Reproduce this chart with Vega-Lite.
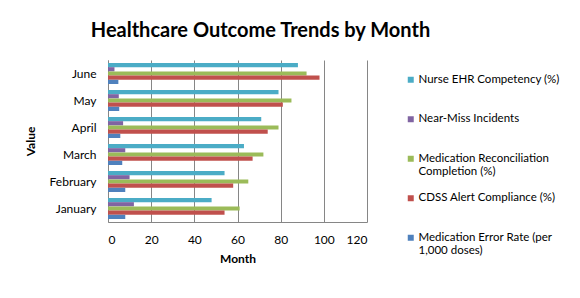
{
  "$schema": "https://vega.github.io/schema/vega-lite/v6.json",
  "width": 259,
  "height": 162,
  "autosize": {"type": "none"},
  "padding": {"left": 108, "top": 60, "right": 213, "bottom": 76},
  "background": "white",
  "title": {
    "text": "Healthcare Outcome Trends by Month",
    "font": "Lato",
    "fontSize": 20,
    "fontWeight": "bold",
    "color": "#000000",
    "anchor": "middle",
    "frame": "group",
    "dx": 23,
    "dy": 23,
    "baseline": "bottom",
    "offset": 22
  },
  "data": {
    "values": [
      {"month": "January", "series": "Nurse EHR Competency (%)", "value": 48},
      {"month": "January", "series": "Near-Miss Incidents", "value": 12},
      {"month": "January", "series": "Medication Reconciliation Completion (%)", "value": 61},
      {"month": "January", "series": "CDSS Alert Compliance (%)", "value": 54},
      {"month": "January", "series": "Medication Error Rate (per 1,000 doses)", "value": 8},
      {"month": "February", "series": "Nurse EHR Competency (%)", "value": 54},
      {"month": "February", "series": "Near-Miss Incidents", "value": 10},
      {"month": "February", "series": "Medication Reconciliation Completion (%)", "value": 65},
      {"month": "February", "series": "CDSS Alert Compliance (%)", "value": 58},
      {"month": "February", "series": "Medication Error Rate (per 1,000 doses)", "value": 8},
      {"month": "March", "series": "Nurse EHR Competency (%)", "value": 63},
      {"month": "March", "series": "Near-Miss Incidents", "value": 8},
      {"month": "March", "series": "Medication Reconciliation Completion (%)", "value": 72},
      {"month": "March", "series": "CDSS Alert Compliance (%)", "value": 67},
      {"month": "March", "series": "Medication Error Rate (per 1,000 doses)", "value": 6.6},
      {"month": "April", "series": "Nurse EHR Competency (%)", "value": 71},
      {"month": "April", "series": "Near-Miss Incidents", "value": 7},
      {"month": "April", "series": "Medication Reconciliation Completion (%)", "value": 79},
      {"month": "April", "series": "CDSS Alert Compliance (%)", "value": 74},
      {"month": "April", "series": "Medication Error Rate (per 1,000 doses)", "value": 5.7},
      {"month": "May", "series": "Nurse EHR Competency (%)", "value": 79},
      {"month": "May", "series": "Near-Miss Incidents", "value": 5},
      {"month": "May", "series": "Medication Reconciliation Completion (%)", "value": 85},
      {"month": "May", "series": "CDSS Alert Compliance (%)", "value": 81},
      {"month": "May", "series": "Medication Error Rate (per 1,000 doses)", "value": 5.2},
      {"month": "June", "series": "Nurse EHR Competency (%)", "value": 88},
      {"month": "June", "series": "Near-Miss Incidents", "value": 3},
      {"month": "June", "series": "Medication Reconciliation Completion (%)", "value": 92},
      {"month": "June", "series": "CDSS Alert Compliance (%)", "value": 98},
      {"month": "June", "series": "Medication Error Rate (per 1,000 doses)", "value": 4.8}
    ]
  },
  "mark": {"type": "bar"},
  "encoding": {
    "y": {
      "field": "month",
      "type": "nominal",
      "sort": ["June", "May", "April", "March", "February", "January"],
      "scale": {"paddingInner": 0.22, "paddingOuter": 0.11},
      "axis": {
        "title": "Value",
        "titleFont": "Lato",
        "titleFontSize": 12,
        "titleFontWeight": "bold",
        "titleColor": "#000000",
        "titlePadding": 12,
        "labelFont": "Lato",
        "labelFontSize": 12,
        "labelColor": "#000000",
        "labelPadding": 12,
        "ticks": false,
        "domainColor": "#868686",
        "grid": false
      }
    },
    "yOffset": {
      "field": "series",
      "type": "nominal",
      "sort": [
        "Nurse EHR Competency (%)",
        "Near-Miss Incidents",
        "Medication Reconciliation Completion (%)",
        "CDSS Alert Compliance (%)",
        "Medication Error Rate (per 1,000 doses)"
      ],
      "scale": {"paddingInner": 0, "paddingOuter": 0}
    },
    "x": {
      "field": "value",
      "type": "quantitative",
      "scale": {"domain": [0, 120], "nice": false},
      "axis": {
        "title": "Month",
        "titleFont": "Lato",
        "titleFontSize": 12,
        "titleFontWeight": "bold",
        "titleColor": "#000000",
        "titlePadding": 8,
        "labelFont": "Lato",
        "labelFontSize": 12,
        "labelColor": "#000000",
        "labelPadding": 12,
        "values": [0, 20, 40, 60, 80, 100, 120],
        "ticks": false,
        "grid": true,
        "gridColor": "#868686",
        "domainColor": "#868686"
      }
    },
    "color": {
      "field": "series",
      "type": "nominal",
      "scale": {
        "domain": [
          "Nurse EHR Competency (%)",
          "Near-Miss Incidents",
          "Medication Reconciliation Completion (%)",
          "CDSS Alert Compliance (%)",
          "Medication Error Rate (per 1,000 doses)"
        ],
        "range": ["#4BACC6", "#8064A2", "#9BBB59", "#C0504D", "#4F81BD"]
      },
      "legend": {
        "title": null,
        "orient": "none",
        "legendX": 297,
        "legendY": 14,
        "symbolType": "square",
        "symbolSize": 36,
        "symbolStrokeWidth": 0,
        "symbolOpacity": 1,
        "labelFont": "Lato",
        "labelFontSize": 11.5,
        "labelColor": "#000000",
        "labelOffset": 2,
        "labelLimit": 300,
        "gridAlign": "all",
        "rowPadding": 13.5,
        "labelExpr": "datum.label == 'Medication Reconciliation Completion (%)' ? ['Medication Reconciliation', 'Completion (%)'] : datum.label == 'Medication Error Rate (per 1,000 doses)' ? ['Medication Error Rate (per', '1,000 doses)'] : datum.label"
      }
    }
  },
  "config": {
    "view": {"stroke": null},
    "bar": {"stroke": null}
  }
}
